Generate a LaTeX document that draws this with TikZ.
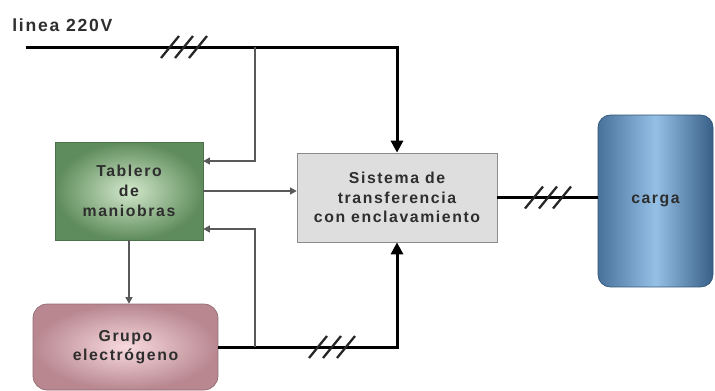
\documentclass[tikz,border=0pt]{standalone}
\usepackage{fontspec}
\setmainfont{Liberation Sans}
\newfontfamily\wide[LetterSpace=10]{Liberation Sans}
\usepackage{xcolor}
\usetikzlibrary{arrows.meta,positioning}
\definecolor{tabgreen}{HTML}{5F8C5C}
\definecolor{tablight}{HTML}{D2E8CB}
\definecolor{grupink}{HTML}{B88790}
\definecolor{grulight}{HTML}{F8DADE}
\definecolor{carblue}{HTML}{3F6A96}
\definecolor{carlight}{HTML}{95C0E6}
\definecolor{labelgray}{HTML}{2E2E2E}
\begin{document}
\begin{tikzpicture}[x=0.02cm,y=-0.02cm]
    \tikzstyle{block}=[draw,align=center,inner sep=0pt,text=labelgray,font=\wide\bfseries\fontsize{9}{11.2}\selectfont]
    \tikzstyle{power}=[line width=1.7pt,black]
    \tikzstyle{signal}=[line width=0.6pt,black!65]
    \tikzstyle{bigtip}=[-{Triangle[length=2.4mm,width=2.4mm]}]
    \tikzstyle{smalltip}=[-{Triangle[length=1.3mm,width=1.4mm]}]
    \tikzset{phases/.pic={
        \foreach \d in {-14,0,14}
            \draw[line width=1.3pt,black!85] (\d-9,11) -- (\d+9,-11);
    }}
    \fill[white] (0,0) rectangle (715,390);
    \useasboundingbox (0,0) rectangle (715,390);
    % blocks
    \node[block,draw=tabgreen!80!black,shading=radial,inner color=tablight,outer color=tabgreen,
        minimum width=2.96cm,minimum height=1.96cm] (tab) at (129,191) {Tablero\\de\\maniobras};
    \node[block,draw=black!45,fill=black!13,
        minimum width=4cm,minimum height=1.78cm] (sis) at (397,197.5) {Sistema de\\transferencia\\con enclavamiento};
    \node[block,draw=grupink!80!black,rounded corners=8pt,shading=radial,inner color=grulight,outer color=grupink,
        minimum width=3.7cm,minimum height=1.72cm] (gru) at (125.5,347) {Grupo\\electr\'ogeno};
    \node[block,draw=carblue!80!black,rounded corners=7pt,left color=carblue!95!white,right color=carblue!90!black,middle color=carlight,
        minimum width=2.3cm,minimum height=3.44cm] (car) at (655.5,201) {carga};
    \node[text=labelgray,font=\wide\bfseries\fontsize{10}{12}\selectfont,anchor=west,inner sep=0pt] (lab) at (12,25) {linea 220V};
    % power lines
    \coordinate (lin) at (26,47);
    \coordinate (tap) at (255,47);
    \draw[power,bigtip] (lin) -| (sis.north);
    \draw[power,bigtip] (gru.east) -| (sis.south);
    \draw[power] (sis.east) -- (sis.east -| car.west);
    \pic at (184,47) {phases};
    \pic at (332,347) {phases};
    \pic at (548,197.5) {phases};
    % control lines
    \coordinate (tapb) at (gru.east -| tap);
    \draw[signal,smalltip] (tap) |- ([yshift=0.6cm]tab.east);
    \draw[signal,smalltip] (tapb) |- ([yshift=-0.76cm]tab.east);
    \draw[signal,smalltip] (tab.east) -- (tab.east -| sis.west);
    \draw[signal,smalltip] (tab.south) -- (tab.south |- gru.north);
\end{tikzpicture}
\end{document}
